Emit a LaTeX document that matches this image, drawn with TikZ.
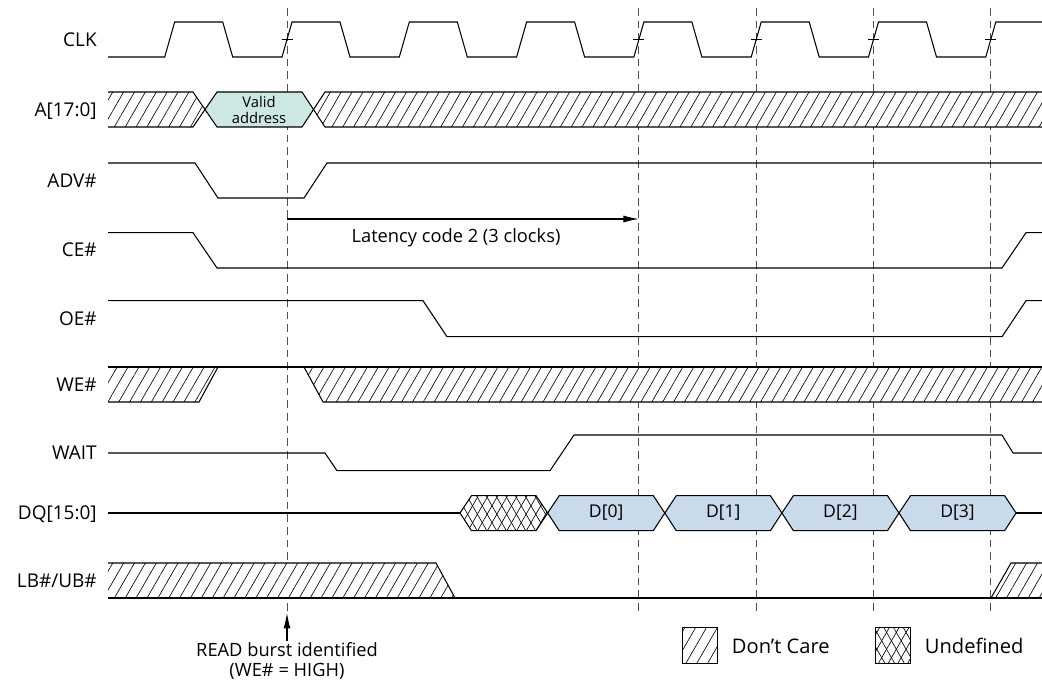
\documentclass[tikz,border=0pt]{standalone}
\usepackage{fontspec}
\setmainfont{Open Sans}
\usetikzlibrary{patterns.meta, arrows.meta, positioning}
\definecolor{validbg}{HTML}{CDE7E2}
\definecolor{databg}{HTML}{C9DAEA}
\definecolor{guidegray}{HTML}{505050}

\begin{document}
\begin{tikzpicture}[x=0.025cm, y=-0.025cm, line join=miter]
  \tikzset{
    wave/.style={line width=0.75pt},
    guide/.style={guidegray, line width=0.6pt, dash pattern=on 5.5pt off 3.5pt},
    hatch/.style={preaction={fill=white}, pattern={Lines[angle=60, distance=6.7pt, line width=0.45pt]}},
    xhatch/.style={preaction={fill=white}, preaction={pattern={Lines[angle=60, distance=6pt, line width=0.45pt]}}, pattern={Lines[angle=120, distance=6pt, line width=0.45pt]}},
    siglabel/.style={anchor=east, font=\fontsize{13.5}{16}\selectfont, text height=9.6pt, text depth=0pt, inner sep=0pt},
    boxtext/.style={font=\fontsize{12.5}{15}\selectfont},
    legtext/.style={anchor=west, font=\fontsize{14.3}{17}\selectfont},
    note/.style={font=\fontsize{13}{14.5}\selectfont, align=center, inner sep=1pt},
    arr/.style={-{Latex[length=11pt, width=5pt]}, line width=0.75pt}
  }
  \useasboundingbox (0,0) rectangle (1042,683);

  \foreach \gx in {287, 638.9, 756.2, 873.5, 990.8}
    \draw[guide] (\gx,8) -- (\gx,612);

  \foreach \ly/\lt/\ln in {40/CLK/clk, 109.5/{A[17:0]}/addr, 181/ADV\#/adv, 250/CE\#/ce,
      318.5/OE\#/oe, 384.5/WE\#/we, 452.5/WAIT/wait, 513/{DQ[15:0]}/dq, 581/{LB\#/UB\#}/lbub}
    \node[siglabel] (\ln) at (97,\ly) {\lt};

  \draw[wave] (108,57)
    \foreach \k [evaluate=\k as \t using 169.7+117.3*\k] in {0,...,6} {
      -- ({\t-5},57) -- ({\t+5},22) -- ({\t+53},22) -- ({\t+63},57) }
    -- (985.8,57) -- (995.8,22) -- (1042,22);
  \foreach \gx in {287, 638.9, 756.2, 873.5, 990.8}
    \draw[line width=0.5pt] (\gx-5.5,39.5) -- (\gx+5.5,39.5);

  \fill[hatch] (108,92) -- (193,92) -- (205,109.5) -- (193,127) -- (108,127) -- cycle;
  \draw[wave] (108,92) -- (193,92) -- (205,109.5) -- (193,127) -- (108,127);
  \filldraw[wave, fill=validbg] (205,109.5) -- (217,92) -- (302,92) -- (313.5,109.5) -- (302,127) -- (217,127) -- cycle;
  \node[font=\fontsize{10.5}{11}\selectfont, align=center] (valid) at (259,110) {Valid\\address};
  \fill[hatch] (1042,92) -- (325,92) -- (313.5,109.5) -- (325,127) -- (1042,127) -- cycle;
  \draw[wave] (1042,92) -- (325,92) -- (313.5,109.5) -- (325,127) -- (1042,127);

  \draw[wave] (108,163) -- (195,163) -- (218,198) -- (304,198) -- (327,163) -- (1042,163);

  \coordinate (lats) at (287,219);
  \coordinate (late) at (638.9,219);
  \draw[arr] (lats) -- (late);
  \node[note] (lat) at (456,238) {Latency code 2 (3 clocks)};

  \draw[wave] (108,232.7) -- (193,232.7) -- (217,268) -- (1002,268) -- (1026,232.7) -- (1042,232.7);

  \draw[wave] (108,300.7) -- (423,300.7) -- (447,336.7) -- (1002,336.7) -- (1026,300.7) -- (1042,300.7);

  \fill[hatch] (108,367) -- (218,367) -- (199,402) -- (108,402) -- cycle;
  \fill[hatch] (304,367) -- (323,402) -- (1042,402) -- (1042,367) -- cycle;
  \draw[wave] (108,367) -- (1042,367);
  \draw[wave] (218,367) -- (199,402) -- (108,402);
  \draw[wave] (304,367) -- (323,402) -- (1042,402);

  \draw[wave] (108,453) -- (325,453) -- (337,470.7) -- (550,470.7) -- (574,435) -- (1002,435) -- (1013,453) -- (1042,453);

  \draw[wave] (108,513) -- (460,513);
  \filldraw[wave, xhatch] (460,513) -- (471.5,495.7) -- (536,495.7) -- (547.7,513) -- (536,530.7) -- (471.5,530.7) -- cycle;
  \foreach \k/\dl in {0/D[0], 1/D[1], 2/D[2], 3/D[3]} {
    \pgfmathsetmacro\L{547.7+117.1*\k}
    \filldraw[wave, fill=databg] (\L,513) -- ({\L+11.5},495.7) -- ({\L+105.6},495.7) -- ({\L+117.1},513)
      -- ({\L+105.6},530.7) -- ({\L+11.5},530.7) -- cycle;
    \node[boxtext] (d\k) at ({\L+58.5},513) {\dl};
  }
  \draw[wave] (1016.1,513) -- (1042,513);

  \fill[hatch] (108,563) -- (436,563) -- (455,598) -- (108,598) -- cycle;
  \fill[hatch] (991,598) -- (1011,563) -- (1042,563) -- (1042,598) -- cycle;
  \draw[wave] (108,563) -- (436,563) -- (455,598);
  \draw[wave] (991,598) -- (1011,563) -- (1042,563);
  \draw[wave] (108,598) -- (1042,598);

  \node[note] (rb) at (287,661) {READ burst identified\\(WE\# = HIGH)};
  \coordinate (rbtip) at (287,613);
  \draw[arr] (rb) -- (rbtip);

  \draw[wave, hatch] (682.7,627.7) rectangle (717.3,663.3);
  \node[legtext] (dontcare) at (727,646) {Don’t Care};
  \draw[wave, xhatch] (875.7,627.7) rectangle (910.7,663.3);
  \node[legtext] (undef) at (920,646) {Undefined};
\end{tikzpicture}
\end{document}
